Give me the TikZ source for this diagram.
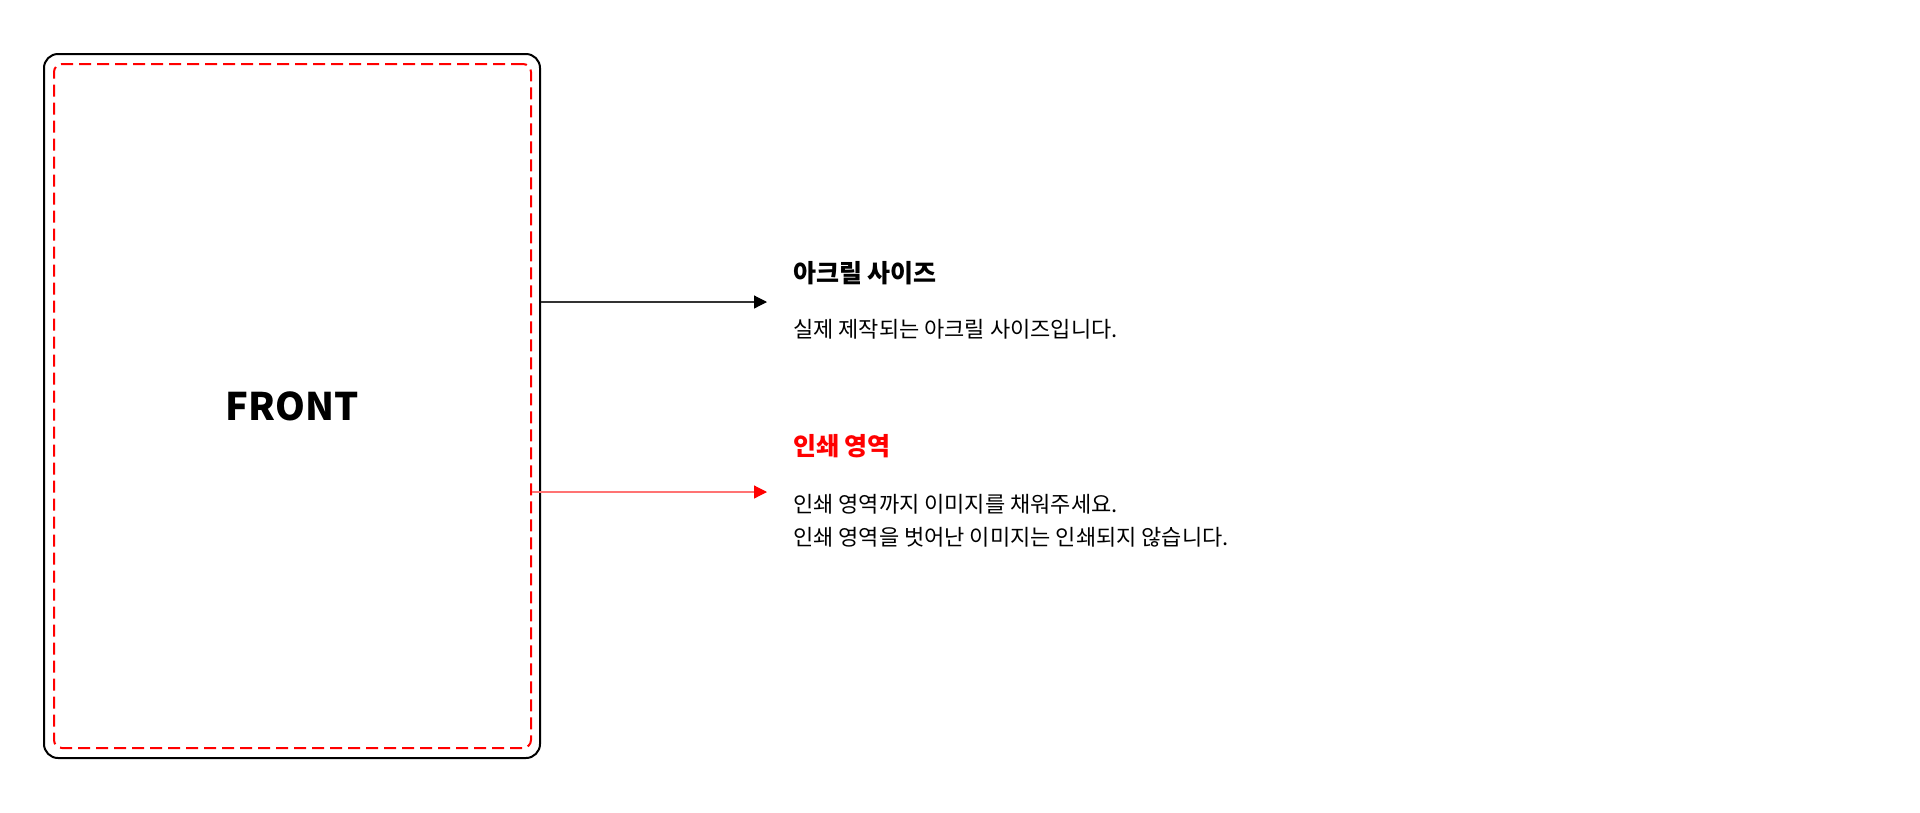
\documentclass[tikz,border=0pt]{standalone}
\usepackage{fontspec}
\setmainfont{Noto Sans CJK KR}
\usetikzlibrary{arrows.meta,positioning}

\begin{document}
\begin{tikzpicture}[x=1pt,y=-1pt,
        heading/.style={anchor=west,inner sep=0pt,font=\bfseries\fontsize{25}{28}\selectfont},
        note/.style={anchor=west,inner sep=0pt,align=left,font=\fontsize{22}{33}\selectfont},
        pointer/.style={line width=1.2pt,-{Triangle[length=13pt,width=13pt,color=#1]}}]
                \useasboundingbox (0,0) rectangle (1920,812);
                \node[draw,line width=2pt,rounded corners=14pt,minimum width=496pt,minimum height=704pt,inner sep=0pt] (acrylic) at (292,406) {};
                \node[draw=red,line width=2pt,dash pattern=on 12pt off 6pt,rounded corners=8pt,minimum width=477pt,minimum height=684pt,inner sep=0pt] (printarea) at (292.5,406) {};
                \node[font=\bfseries\fontsize{38}{40}\selectfont] (front) at (acrylic.center) {FRONT};
                \node[heading] (acryltitle) at (793,273) {아크릴 사이즈};
                \node[note] (acryltext) at (793,329) {실제 제작되는 아크릴 사이즈입니다.};
                \node[heading,text=red] (printtitle) at (793,446) {인쇄 영역};
                \node[note] (printtext) at (793,521) {인쇄 영역까지 이미지를 채워주세요.\\인쇄 영역을 벗어난 이미지는 인쇄되지 않습니다.};
                \coordinate (acrylend) at (767,302);
                \coordinate (printend) at (767,492);
                \draw[pointer=black,draw=black!80] (acrylic.east |- acrylend) -- (acrylend);
                \draw[pointer=red,draw=red!55] (printarea.east |- printend) -- (printend);
\end{tikzpicture}
\end{document}
